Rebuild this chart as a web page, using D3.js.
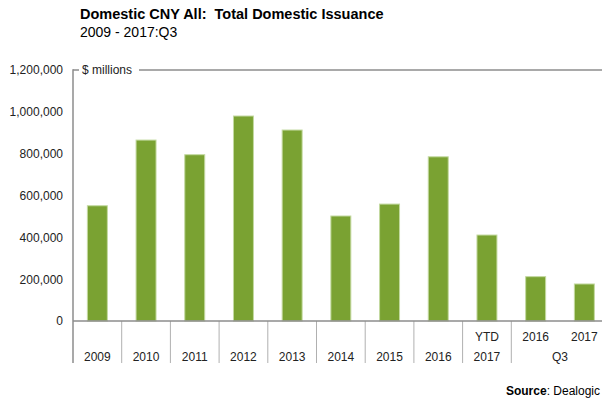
<!DOCTYPE html>
<html>
<head>
<meta charset="utf-8">
<script src="https://cdn.jsdelivr.net/npm/d3@7"></script>
<style>
  body { margin: 0; background: #fff; }
  svg { display: block; font-family: "Liberation Sans", Arial, sans-serif; }
</style>
</head>
<body>
<svg id="chart" width="602" height="401"></svg>
<script>
// data
var categories = ["2009", "2010", "2011", "2012", "2013", "2014", "2015", "2016", "YTD 2017", "2016 Q3", "2017 Q3"];
var issuance = [551000, 865000, 795000, 980000, 913000, 502000, 559000, 785000, 411000, 212000, 177000];
var topLabels = ["", "", "", "", "", "", "", "", "YTD", "2016", "2017"];
var groupLabels = ["2009", "2010", "2011", "2012", "2013", "2014", "2015", "2016", "2017", "Q3"];
var groupSpans = [1, 1, 1, 1, 1, 1, 1, 1, 1, 2];
var yTicks = [0, 200000, 400000, 600000, 800000, 1000000, 1200000];

var plotLeft = 73, plotTop = 70, plotBottom = 321, step = 48.7;
var labelBottom = 363;

var svg = d3.select("#chart");

var xScale = d3.scaleBand()
  .domain(categories)
  .range([plotLeft, plotLeft + step * categories.length])
  .paddingInner(0.59)
  .paddingOuter(0.295);

var yScale = d3.scaleLinear()
  .domain([0, 1200000])
  .range([plotBottom, plotTop]);

var fmt = d3.format(",");

// title
svg.append("text")
  .attr("x", 80).attr("y", 19)
  .style("font-size", "14.5px").style("font-weight", "bold").attr("fill", "#000")
  .attr("xml:space", "preserve")
  .text("Domestic CNY All:  Total Domestic Issuance");
svg.append("text")
  .attr("x", 80).attr("y", 37)
  .style("font-size", "14px").attr("fill", "#000")
  .text("2009 - 2017:Q3");

// y axis labels (no ticks)
var yAxis = d3.axisLeft(yScale)
  .tickValues(yTicks)
  .tickFormat(fmt)
  .tickSize(0)
  .tickPadding(10);

var gy = svg.append("g")
  .attr("transform", "translate(" + plotLeft + ",0)")
  .call(yAxis);
gy.select(".domain").remove();
gy.selectAll("text")
  .style("font-size", "12px")
  .style("font-family", "'Liberation Sans', Arial, sans-serif")
  .attr("fill", "#222");

// bars
svg.append("g").selectAll("rect")
  .data(issuance)
  .enter().append("rect")
  .attr("x", function(d, i) { return xScale(categories[i]); })
  .attr("y", function(d) { return yScale(d); })
  .attr("width", xScale.bandwidth())
  .attr("height", function(d) { return yScale(0) - yScale(d); })
  .attr("fill", "#7aa232")
  .attr("stroke", "#c3d9a0")
  .attr("stroke-width", 1);

// frame top line with "$ millions" label
svg.append("line")
  .attr("x1", plotLeft).attr("x2", 602)
  .attr("y1", yScale(1200000)).attr("y2", yScale(1200000))
  .attr("stroke", "#8c8c8c").attr("stroke-width", 1.5);
svg.append("rect")
  .attr("x", 79).attr("y", yScale(1200000) - 7)
  .attr("width", 60).attr("height", 14)
  .attr("fill", "#fff");
svg.append("text")
  .attr("x", 82).attr("y", yScale(1200000) + 4)
  .style("font-size", "12px").attr("fill", "#222")
  .text("$ millions");

// category separators
var sepX = [];
var acc = 0;
groupSpans.forEach(function(s) { sepX.push(acc); acc += s; });
sepX.push(acc);
svg.append("g").selectAll("line")
  .data(sepX.slice(1))
  .enter().append("line")
  .attr("x1", function(d) { return plotLeft + d * step; })
  .attr("x2", function(d) { return plotLeft + d * step; })
  .attr("y1", plotBottom).attr("y2", labelBottom)
  .attr("stroke", "#b0b0b0").attr("stroke-width", 1);

// axes lines
svg.append("line")
  .attr("x1", plotLeft).attr("x2", plotLeft)
  .attr("y1", plotTop - 0.75).attr("y2", labelBottom)
  .attr("stroke", "#8c8c8c").attr("stroke-width", 1.5);
svg.append("line")
  .attr("x1", plotLeft).attr("x2", 602)
  .attr("y1", plotBottom).attr("y2", plotBottom)
  .attr("stroke", "#8c8c8c").attr("stroke-width", 1.5);

// top row labels
svg.append("g").selectAll("text")
  .data(topLabels)
  .enter().append("text")
  .attr("x", function(d, i) { return xScale(categories[i]) + xScale.bandwidth() / 2; })
  .attr("y", 341)
  .attr("text-anchor", "middle")
  .style("font-size", "12px").attr("fill", "#222")
  .text(function(d) { return d; });

// bottom row group labels
svg.append("g").selectAll("text")
  .data(groupLabels)
  .enter().append("text")
  .attr("x", function(d, i) { return plotLeft + (sepX[i] + groupSpans[i] / 2) * step; })
  .attr("y", 361)
  .attr("text-anchor", "middle")
  .style("font-size", "12px").attr("fill", "#222")
  .text(function(d) { return d; });

// source
var src = svg.append("text")
  .attr("x", 600).attr("y", 395)
  .attr("text-anchor", "end")
  .style("font-size", "12px").attr("fill", "#000");
src.append("tspan").style("font-weight", "bold").text("Source");
src.append("tspan").text(": Dealogic");
</script>
</body>
</html>
